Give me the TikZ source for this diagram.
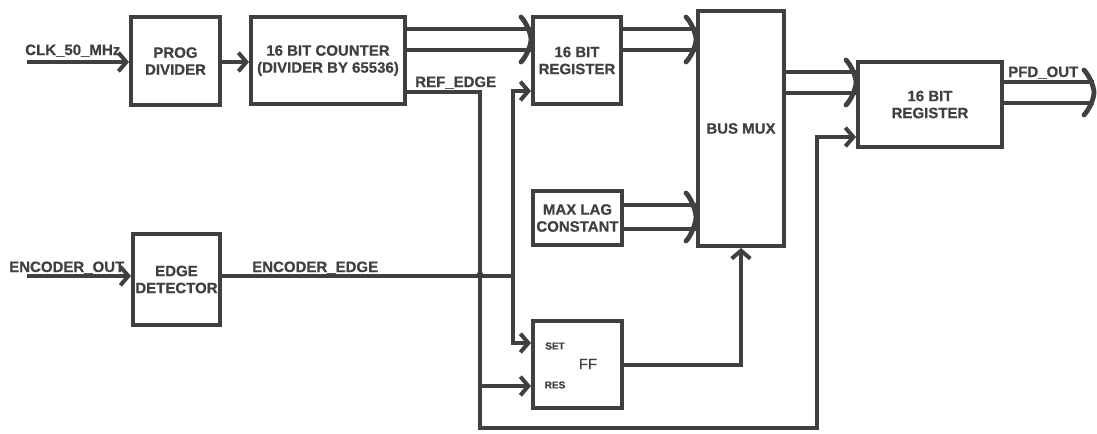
\documentclass[tikz,border=0pt]{standalone}
\usepackage{fontspec}
\setmainfont[FakeBold=0.6]{Liberation Sans}
\usetikzlibrary{arrows.meta,calc}
\definecolor{ink}{HTML}{404040}
\newcommand\bustip[3]{%
  \draw[bustipstyle] (#1-10,#2-12) .. controls (#1-5,#2-7) and (#1,{(#2+#3)/2-6}) .. (#1,{(#2+#3)/2})
    .. controls (#1,{(#2+#3)/2+6}) and (#1-5,#3+7) .. (#1-10,#3+12);}
\begin{document}
\begin{tikzpicture}[x=0.75pt,y=-0.75pt,
  box/.style={draw=ink,line width=3pt,text=ink,align=center,inner sep=0pt,
    font=\fontsize{11.25pt}{12.75pt}\selectfont\bfseries},
  bx/.style 2 args={minimum width=#1*0.75pt,minimum height=#2*0.75pt},
  lbl/.style={text=ink,inner sep=0pt,font=\fontsize{11.25pt}{12.75pt}\selectfont\bfseries},
  small/.style={text=ink,inner sep=0pt,font=\fontsize{7.5pt}{9pt}\selectfont\bfseries},
  wire/.style={draw=ink,line width=3pt},
  arr/.style={-{Straight Barb[length=6pt,width=14pt]}},
  bustipstyle/.style={draw=ink,line width=3.6pt,line cap=round,line join=round}]
\useasboundingbox (0,0) rectangle (1097,433);

% blocks
\node[box,bx={89}{88}] (prog) at (175.5,61) {PROG\\DIVIDER};
\node[box,bx={154}{87}] (cnt) at (328,60.5) {16 BIT COUNTER\\(DIVIDER BY 65536)};
\node[box,bx={88}{87}] (reg1) at (577,60.5) {16 BIT\\REGISTER};
\node[box,bx={86}{235}] (mux) at (741,128.5) {BUS MUX};
\node[box,bx={144}{85}] (reg2) at (930,104.5) {16 BIT\\REGISTER};
\node[box,bx={89}{54}] (lag) at (577.5,218) {MAX LAG\\CONSTANT};
\node[box,bx={87}{91}] (edge) at (176.5,279.5) {EDGE\\DETECTOR};
\node[box,bx={89}{87}] (ff) at (577.5,364.5) {};
\node[small] (setl) at (555,346) {SET};
\node[small] (resl) at (555,385) {RES};
\node[text=ink,inner sep=0pt,font=\fontsize{11.25pt}{12.75pt}\selectfont] (ffl) at (588,364) {FF};

% labels
\node[lbl,anchor=base west] (clkl) at (25,55) {CLK\_50\_MHz};
\node[lbl,anchor=base west] (refl) at (415,87) {REF\_EDGE};
\node[lbl,anchor=base west] (encl) at (9,272) {ENCODER\_OUT};
\node[lbl,anchor=base west] (edgl) at (252,272) {ENCODER\_EDGE};
\node[lbl,anchor=base west] (pfdl) at (1008,77) {PFD\_OUT};

% coordinates
\coordinate (clkin) at (27,62);
\coordinate (encin) at (27,276);
\coordinate (pfdout) at (1094,92.5);
\coordinate (r1) at (480,92);
\coordinate (rb) at (480,386);
\coordinate (r2) at (480,428);
\coordinate (r3) at (817,428);
\coordinate (r4) at (817,137);
\coordinate (e1) at (513,276);
\coordinate (e2) at (513,91);
\coordinate (e3) at (513,343);

% single wires
\draw[wire,arr] (clkin) -- (prog.west|-clkin);
\draw[wire,arr] (prog.east|-0,62) -- (cnt.west|-0,62);
\draw[wire,arr] (encin) -- (edge.west|-encin);
\draw[wire] (edge.east|-e1) -- (e1);
\draw[wire,arr] (e1) -- (e2) -- (reg1.west|-e2);
\draw[wire,arr] (e1) -- (e3) -- (ff.west|-e3);
\draw[wire,arr] (cnt.east|-r1) -- (r1) -- (r2) -- (r3) -- (r4) -- (reg2.west|-r4);
\draw[wire,arr] (rb) -- (ff.west|-rb);
\fill[ink] (480,275) circle[radius=3.5];
\draw[wire,arr] (ff.east) -| (mux.south);

% buses
\draw[wire] (cnt.east|-0,29) -- (reg1.west|-0,29);
\draw[wire] (cnt.east|-0,50) -- (reg1.west|-0,50);
\bustip{531}{29}{50}
\draw[wire] (reg1.east|-0,29) -- (mux.west|-0,29);
\draw[wire] (reg1.east|-0,50) -- (mux.west|-0,50);
\bustip{696}{29}{50}
\draw[wire] (lag.east|-0,205) -- (mux.west|-0,205);
\draw[wire] (lag.east|-0,229) -- (mux.west|-0,229);
\bustip{696}{205}{229}
\draw[wire] (mux.east|-0,72) -- (reg2.west|-0,72);
\draw[wire] (mux.east|-0,93) -- (reg2.west|-0,93);
\bustip{856}{72}{93}
\draw[wire] (reg2.east|-0,82) -- (pfdout|-0,82);
\draw[wire] (reg2.east|-0,103) -- (pfdout|-0,103);
\bustip{1094}{82}{103}
\end{tikzpicture}
\end{document}
